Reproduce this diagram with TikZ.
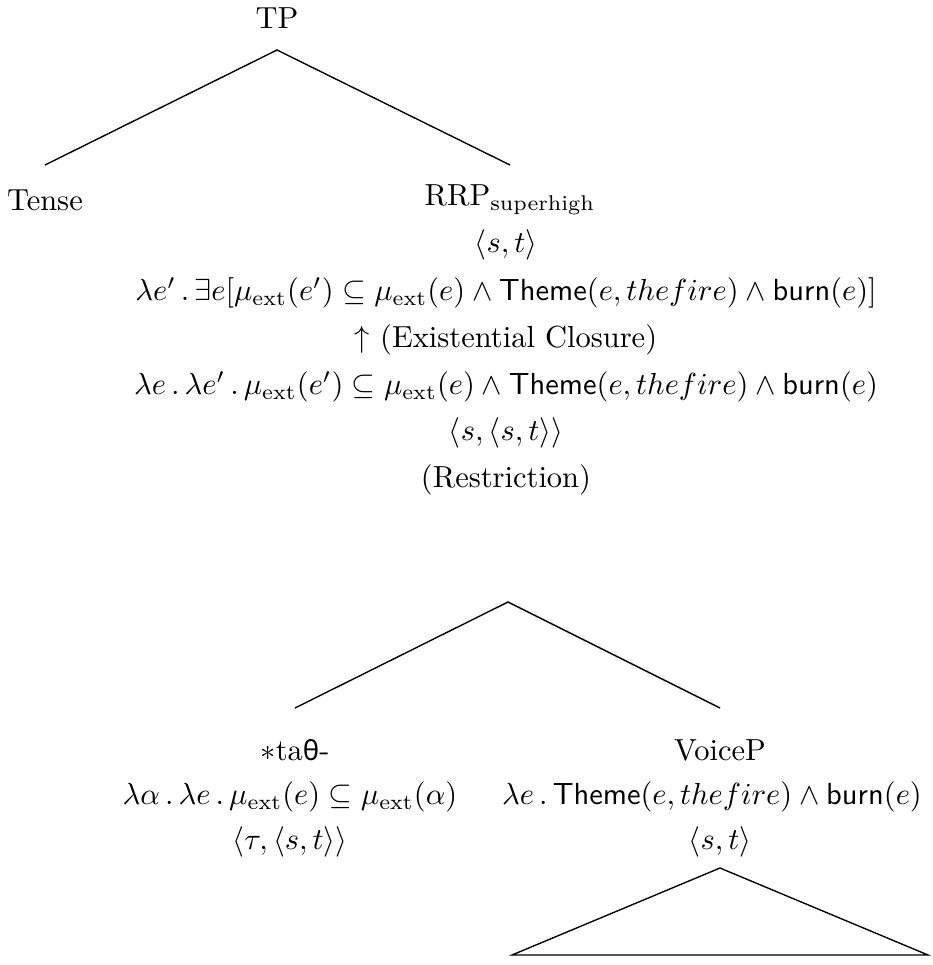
\documentclass[tikz,border=0pt]{standalone}
\usepackage{fontspec}
\usepackage{amsmath,amssymb}
\newfontfamily\grkfont{Noto Sans}
\begin{document}
\begin{tikzpicture}[x=0.328pt,y=-0.328pt,
  lbl/.style={inner sep=0pt,anchor=center},
  edge/.style={line width=0.45pt}]
\useasboundingbox (0,0) rectangle (933,965);
% top tree
\node[lbl] (tp) at (277,18) {TP};
\coordinate (tpa) at (277,50);
\coordinate (tpl) at (45,165);
\coordinate (tpr) at (510,165);
\node[lbl] (tense) at (45,200) {Tense};
\node[lbl] (rrp) at (510,200) {RRP$_{\text{superhigh}}$};
\draw[edge] (tpl) -- (tpa) -- (tpr);
\node[lbl] (t1) at (506,245) {$\langle s,t\rangle$};
\node[lbl] (f1) at (506,293) {$\lambda e'\,.\,\exists e[\mu_{\text{ext}}(e')\subseteq\mu_{\text{ext}}(e)\wedge\mathsf{Theme}(e,thefire)\wedge\mathsf{burn}(e)]$};
\node[lbl] (ec) at (506,340) {$\uparrow$ (Existential Closure)};
\node[lbl] (f2) at (506,387) {$\lambda e\,.\,\lambda e'\,.\,\mu_{\text{ext}}(e')\subseteq\mu_{\text{ext}}(e)\wedge\mathsf{Theme}(e,thefire)\wedge\mathsf{burn}(e)$};
\node[lbl] (t2) at (506,433) {$\langle s,\langle s,t\rangle\rangle$};
\node[lbl] (rs) at (506,480) {(Restriction)};
% lower tree
\coordinate (ra) at (508,602);
\coordinate (rl) at (295,708);
\coordinate (rr) at (720,708);
\draw[edge] (rl) -- (ra) -- (rr);
\node[lbl] (tath) at (295,750) {$\ast$ta{\grkfont\fontsize{9}{10}\selectfont θ}-};
\node[lbl] (vp) at (720,750) {VoiceP};
\node[lbl] (f3) at (290,797) {$\lambda\alpha\,.\,\lambda e\,.\,\mu_{\text{ext}}(e)\subseteq\mu_{\text{ext}}(\alpha)$};
\node[lbl] (f4) at (712,797) {$\lambda e\,.\,\mathsf{Theme}(e,thefire)\wedge\mathsf{burn}(e)$};
\node[lbl] (t3) at (290,842) {$\langle\tau,\langle s,t\rangle\rangle$};
\node[lbl] (t4) at (720,842) {$\langle s,t\rangle$};
\coordinate (va) at (720,868);
\coordinate (vl) at (512,955);
\coordinate (vr) at (928,955);
\draw[edge] (va) -- (vl) -- (vr) -- cycle;
\end{tikzpicture}
\end{document}
